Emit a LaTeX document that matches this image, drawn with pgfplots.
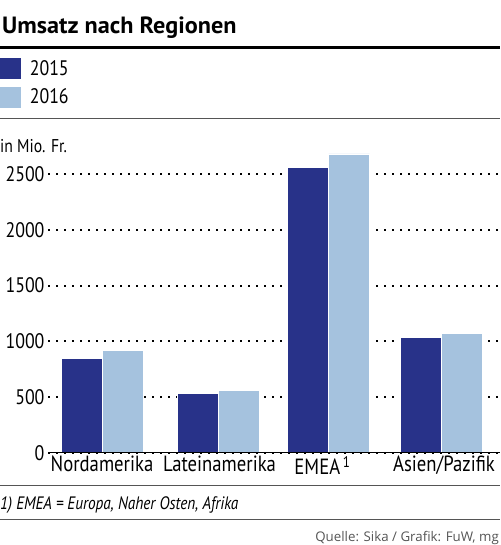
\documentclass[border=0pt]{standalone}
\usepackage{fontspec}
\setmainfont{PT Sans}[FakeStretch=0.85]
\newfontfamily\titlefont{PT Sans}[FakeStretch=1.03]
\newfontfamily\srcfont{Open Sans}
\usepackage{pgfplots}
\pgfplotsset{compat=1.18}
\definecolor{darkbar}{RGB}{40,50,137}
\definecolor{lightbar}{RGB}{165,194,222}
\definecolor{rulegray}{RGB}{85,85,85}
\begin{document}
\begin{tikzpicture}[x=1pt,y=1pt]
\useasboundingbox (0,0) rectangle (500,545);
% title
\node[anchor=base west, inner sep=0pt, font=\fontsize{23.5}{23.5}\titlefont\bfseries] at (2,511.7) {Umsatz nach Regionen};
\draw[line width=2.6pt, black] (0,497.5) -- (500,497.5);
\draw[line width=1pt, rulegray] (0,426.5) -- (500,426.5);
\node[anchor=base west, inner sep=0pt, font=\fontsize{18.5}{18.5}\selectfont] at (0,392.5) {in Mio. Fr.};
\begin{axis}[
  at={(48pt,92.3pt)}, anchor=south west,
  scale only axis, width=452pt, height=306.4pt,
  xmin=48, xmax=500, ymin=0, ymax=2750,
  axis line style={draw=none},
  tick style={draw=none},
  major tick length=0pt,
  xtick={102,219.5,322.5,444},
  xticklabels={Nordamerika,Lateinamerika,EMEA\,\textsuperscript{\kern-1pt1},Asien/Pazifik},
  ytick={0,500,1000,1500,2000,2500},
  /pgf/number format/assume math mode=true,
  yticklabel={\pgfmathprintnumber[1000 sep={}]{\tick}},
  ymajorgrids,
  grid style={black, line width=2pt, line cap=butt, dash pattern=on 2pt off 6pt},
  ticklabel style={font=\fontsize{21}{21}\selectfont},
  xticklabel style={font=\fontsize{22}{22}\selectfont},
  legend style={at={(-0.1062,1.288)}, anchor=north west, draw=none, fill=none,
    inner sep=0pt, outer sep=0pt, row sep=8pt,
    font=\fontsize{21}{21}\selectfont,
    /tikz/every odd column/.append style={column sep=7pt}},
  legend cell align=left,
]
\addplot[ybar, bar width=41, bar shift=-20.5, fill=darkbar, draw=white, line width=0.8pt,
  legend image code/.code={\fill[darkbar] (0pt,-10pt) rectangle (20pt,10pt);}]
  coordinates {(102.5,847) (218.5,533) (328.5,2558) (441.5,1036)};
\addlegendentry{2015}
\addplot[ybar, bar width=41, bar shift=20.5, fill=lightbar, draw=white, line width=0.8pt,
  legend image code/.code={\fill[lightbar] (0pt,-10pt) rectangle (20pt,10pt);}]
  coordinates {(102.5,916) (218.5,560) (328.5,2681) (441.5,1072)};
\addlegendentry{2016}
\draw[line width=1.3pt, black] (axis cs:48,0) -- (axis cs:500,0);
\end{axis}
\draw[line width=1pt, rulegray] (0,59.3) -- (500,59.3);
\node[anchor=base west, inner sep=0pt, font=\fontsize{18}{18}\selectfont\itshape] at (0,35.7) {1) EMEA = Europa, Naher Osten, Afrika};
\draw[line width=1pt, rulegray] (0,25) -- (500,25);
\node[anchor=base east, inner sep=0pt, text=rulegray, font=\fontsize{13.3}{13.3}\selectfont\srcfont] at (499,4) {Quelle: Sika / Grafik: FuW, mg};
\end{tikzpicture}
\end{document}
